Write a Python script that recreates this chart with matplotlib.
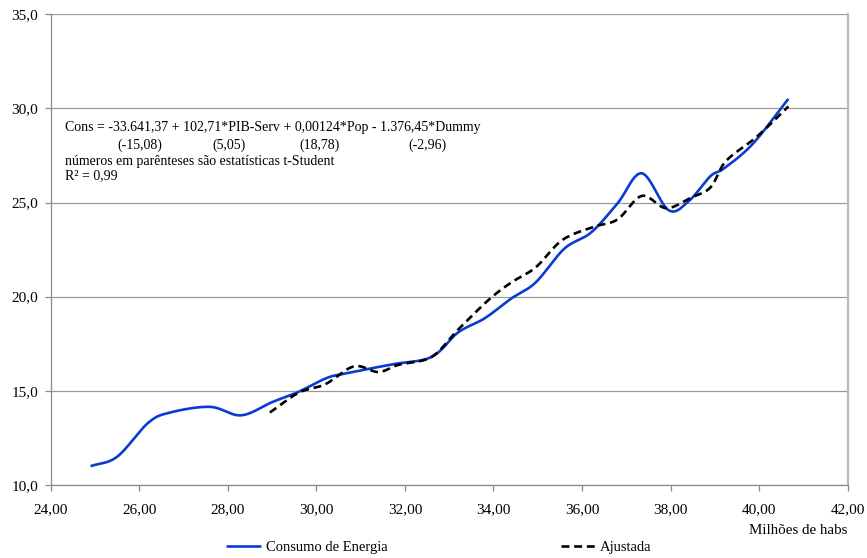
import matplotlib
matplotlib.use("Agg")
import matplotlib.pyplot as plt
import numpy as np
from matplotlib.ticker import FuncFormatter

# Consumo de energia vs população (milhões de habitantes)
pop_obs = [24.90, 25.50, 26.20, 26.70, 27.60, 28.30, 29.00, 29.60, 30.20, 30.60,
           31.70, 32.60, 33.20, 33.80, 34.40, 34.95, 35.60, 36.20, 36.80, 37.35,
           37.95, 38.40, 38.90, 39.20, 39.85, 40.66]
consumo = [11.00, 11.50, 13.30, 13.85, 14.15, 13.70, 14.40, 14.95, 15.65, 15.90,
           16.40, 16.80, 18.10, 18.85, 19.90, 20.75, 22.55, 23.40, 24.95, 26.55,
           24.60, 25.05, 26.40, 26.80, 28.10, 30.50]

pop_fit = [28.95, 29.60, 30.20, 30.85, 31.40, 31.85, 32.60, 33.20, 33.90, 34.40,
           34.95, 35.55, 36.25, 36.80, 37.35, 37.90, 38.45, 38.90, 39.25, 39.95,
           40.66]
ajustada = [13.85, 14.90, 15.35, 16.30, 16.00, 16.38, 16.80, 18.25, 19.85, 20.75,
            21.55, 23.00, 23.70, 24.10, 25.35, 24.70, 25.25, 25.80, 27.20, 28.50,
            30.10]

equation = "Cons = -33.641,37 + 102,71*PIB-Serv + 0,00124*Pop - 1.376,45*Dummy"
t_stats = ["(-15,08)", "(5,05)", "(18,78)", "(-2,96)"]
t_stats_x = [140, 229, 320, 427]  # pixel centres under each coefficient


def smooth(x, y, steps=24):
    """Catmull-Rom curve through the points, like a spreadsheet 'smoothed line'."""
    p = np.column_stack([x, y]).astype(float)
    p = np.vstack([2 * p[0] - p[1], p, 2 * p[-1] - p[-2]])
    out = []
    t = np.linspace(0, 1, steps, endpoint=False)[:, None]
    for i in range(1, len(p) - 2):
        p0, p1, p2, p3 = p[i - 1], p[i], p[i + 1], p[i + 2]
        seg = 0.5 * ((2 * p1) + (-p0 + p2) * t + (2 * p0 - 5 * p1 + 4 * p2 - p3) * t ** 2
                     + (-p0 + 3 * p1 - 3 * p2 + p3) * t ** 3)
        out.append(seg)
    out.append(p[-2][None, :])
    out = np.vstack(out)
    return out[:, 0], out[:, 1]


plt.rcParams['font.family'] = ['Liberation Serif', 'DejaVu Serif']
W, H = 867, 558
fig = plt.figure(figsize=(W / 100, H / 100), dpi=100)
ax = fig.add_axes([50.7 / W, 1 - 485 / H, (847.7 - 50.7) / W, (485 - 14.2) / H])

xs, ys = smooth(pop_obs, consumo)
ax.plot(xs, ys, color='#0a3cd2', lw=1.9, label='Consumo de Energia', solid_capstyle='butt')
xf, yf = smooth(pop_fit, ajustada)
ax.plot(xf, yf, color='black', lw=1.9, dashes=(3.0, 1.8), label='Ajustada')

ax.set_xlim(24, 42)
ax.set_ylim(10, 35)
ax.set_xticks(np.arange(24, 42.1, 2))
ax.set_yticks(np.arange(10, 35.1, 5))
ax.xaxis.set_major_formatter(FuncFormatter(lambda v, _: f"{v:.2f}".replace('.', ',')))
ax.yaxis.set_major_formatter(FuncFormatter(lambda v, _: f"{v:.1f}".replace('.', ',')))
ax.grid(axis='y', color='#9a9a9a', lw=0.9)
ax.set_axisbelow(True)
for side in ['left', 'bottom']:
    ax.spines[side].set_color('#8a8a8a')
    ax.spines[side].set_linewidth(0.9)
ax.spines['right'].set_color('#b8b8b8')
ax.spines['right'].set_linewidth(1.6)
ax.spines['top'].set_visible(False)
ax.tick_params(axis='both', direction='out', length=4, width=0.9, color='#8a8a8a',
               labelsize=11, labelcolor='black')
ax.tick_params(axis='x', pad=9)
ax.tick_params(axis='y', pad=5)

# Regression equation block
def px(x, y):
    return x / W, 1 - y / H

fs = 10
fig.text(*px(65, 128), equation, fontsize=fs, va='center', ha='left')
for lab, cx in zip(t_stats, t_stats_x):
    fig.text(*px(cx, 145), lab, fontsize=fs, va='center', ha='center')
fig.text(*px(65, 161), "números em parênteses são estatísticas t-Student", fontsize=fs,
         va='center', ha='left')
fig.text(*px(65, 176), "R² = 0,99", fontsize=fs, va='center', ha='left')

fig.text(*px(847, 531), "Milhões de habs", fontsize=10.8, va='center', ha='right')

fig.legend(loc='center', bbox_to_anchor=px(439, 547), ncol=2, frameon=False,
           fontsize=10.5, handlelength=2.4, handletextpad=0.3, columnspacing=11.9)

fig.savefig('out.png', dpi=100)
